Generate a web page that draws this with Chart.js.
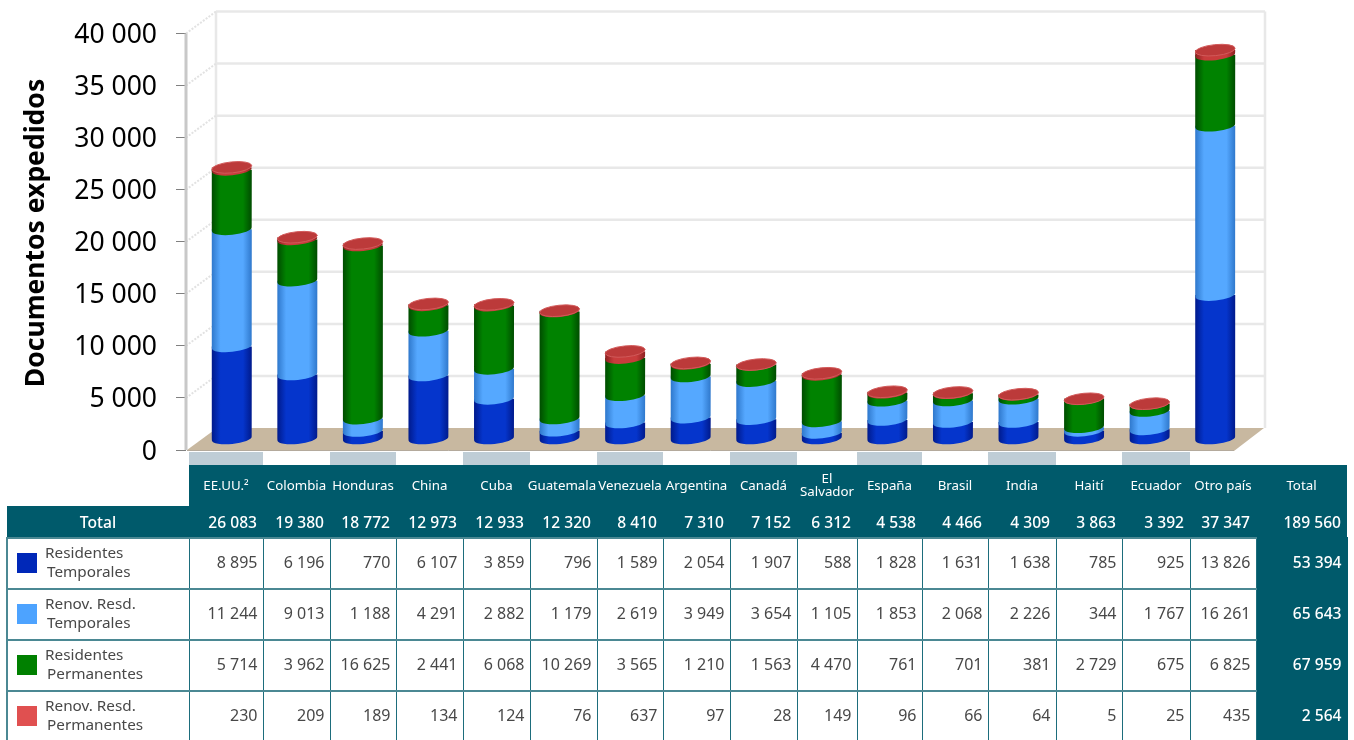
<!DOCTYPE html>
<html>
<head>
<meta charset="utf-8">
<script src="https://cdn.jsdelivr.net/npm/chart.js@4"></script>
<style>
  html, body { margin: 0; padding: 0; width: 1354px; height: 740px; overflow: hidden; background: #fff; }
  body { position: relative; font-family: "Noto Sans", "Open Sans", sans-serif; }
  #wrap { position: absolute; left: 0; top: 0; width: 1354px; height: 465px; }
  #tbl { position: absolute; left: 6px; top: 452px; border-collapse: collapse; table-layout: fixed; color: #484848; }
  #tbl td { padding: 0; box-sizing: border-box; }
  #tbl .band td { height: 13px; border: none; }
  #tbl .band td.on { background: #bfcdd6; }
  #tbl .head td { height: 41px; background: #005a6b; color: #fff; font-size: 13.3px; text-align: center; line-height: 13px; padding-bottom: 1px; }
  #tbl .head td:nth-child(7) { text-indent: -3px; white-space: nowrap; }
  #tbl .tot td { height: 32px; background: #005a6b; color: #fff; font-size: 15.6px; font-weight: 500; text-align: right; padding-right: 6px; }
  #tbl .tot td.lab { text-align: center; padding-right: 0; }
  #tbl .row td { height: 51px; border-top: 2px solid #4b8893; border-bottom: 2px solid #4b8893; border-left: 1px solid #1d6d7c; border-right: 1px solid #1d6d7c; font-size: 16px; text-align: right; padding: 0 5px 4px 0; }
  #tbl .row td.lab { text-align: left; padding: 0 0 3px 37px; position: relative; font-size: 15.3px; line-height: 19px; border-left: 2px solid #4b8893; }
  #tbl .row td.sum { background: #005a6b; color: #fff; font-weight: 500; font-size: 15.6px; padding-right: 5px; border-color: #005a6b; }
  .sw { position: absolute; left: 9px; top: 14px; width: 20px; height: 20px; }
  .l2 { padding-left: 2px; }
</style>
</head>
<body>
<div id="wrap"><canvas id="myChart"></canvas></div>
<table id="tbl"></table>
<script>
const countries = ['EE.UU.²','Colombia','Honduras','China','Cuba','Guatemala','Venezuela','Argentina','Canadá','El Salvador','España','Brasil','India','Haití','Ecuador','Otro país'];
const residTemp = [8895,6196,770,6107,3859,796,1589,2054,1907,588,1828,1631,1638,785,925,13826];
const renovTemp = [11244,9013,1188,4291,2882,1179,2619,3949,3654,1105,1853,2068,2226,344,1767,16261];
const residPerm = [5714,3962,16625,2441,6068,10269,3565,1210,1563,4470,761,701,381,2729,675,6825];
const renovPerm = [230,209,189,134,124,76,637,97,28,149,96,66,64,5,25,435];
const totals = [26083,19380,18772,12973,12933,12320,8410,7310,7152,6312,4538,4466,4309,3863,3392,37347];
const rowTotals = [53394,65643,67959,2564];
const grandTotal = 189560;
const rowNames = [['Residentes','Temporales'],['Renov. Resd.','Temporales'],['Residentes','Permanentes'],['Renov. Resd.','Permanentes']];
const swatches = ['#0028b8','#4da3ff','#008000','#e05050'];
const colWidths = [182,74,67,66,67,67,67,66,67,67,60,65,66,68,66,68,66,91];
const axisTitle = 'Documentos expedidos';

// colores del cilindro: borde, centro
const sideColors = [['#001a8c','#0535cc'],['#2f78cc','#55a8ff'],['#004c00','#008200'],['#8c2020','#c83c3c']];
const capColor = '#bc3a3a';

// desplazamiento 3D
const DEPTH_X = 30, DEPTH_Y = -22;
const BAR_DX = 13, BAR_DY = -11;

const fmt = n => String(n).replace(/\B(?=(\d{3})+$)/g, ' ');

const fondo3d = {
  id: 'fondo3d',
  beforeDatasetsDraw(chart) {
    const { ctx, chartArea: a, scales: { y } } = chart;
    ctx.save();
    // suelo
    ctx.fillStyle = '#c8b8a0';
    ctx.beginPath();
    ctx.moveTo(a.left + 1, a.bottom);
    ctx.lineTo(a.left + DEPTH_X + 1, a.bottom + DEPTH_Y);
    ctx.lineTo(a.right + DEPTH_X - 1, a.bottom + DEPTH_Y);
    ctx.lineTo(a.right - 1, a.bottom + 1);
    ctx.closePath();
    ctx.fill();
    ctx.strokeStyle = '#b4aa9c';
    ctx.lineWidth = 1;
    ctx.beginPath();
    ctx.moveTo(a.left + 1, a.bottom + 0.5);
    ctx.lineTo(a.right - 1, a.bottom + 0.5);
    ctx.stroke();
    // pared del fondo
    ctx.lineWidth = 2.5;
    ctx.strokeStyle = '#e8e8e8';
    ctx.beginPath();
    ctx.moveTo(a.left + DEPTH_X, a.top + DEPTH_Y);
    ctx.lineTo(a.left + DEPTH_X, a.bottom + DEPTH_Y);
    ctx.moveTo(a.right + DEPTH_X, a.top + DEPTH_Y);
    ctx.lineTo(a.right + DEPTH_X, a.bottom + DEPTH_Y);
    ctx.stroke();
    y.ticks.forEach(t => {
      const py = y.getPixelForValue(t.value);
      if (t.value > 0) {
        ctx.strokeStyle = '#e8e8e8';
        ctx.lineWidth = 2.5;
        ctx.setLineDash([]);
        ctx.beginPath();
        ctx.moveTo(a.left + DEPTH_X, py + DEPTH_Y);
        ctx.lineTo(a.right + DEPTH_X, py + DEPTH_Y);
        ctx.stroke();
        ctx.strokeStyle = '#e2e2e2';
        ctx.lineWidth = 2;
        ctx.setLineDash([2, 1.5]);
        ctx.beginPath();
        ctx.moveTo(a.left, py);
        ctx.lineTo(a.left + DEPTH_X, py + DEPTH_Y);
        ctx.stroke();
      }
    });
    ctx.setLineDash([]);
    // eje vertical
    ctx.strokeStyle = '#c8c8c8';
    ctx.lineWidth = 3;
    ctx.beginPath();
    ctx.moveTo(a.left, a.top);
    ctx.lineTo(a.left, a.bottom);
    ctx.stroke();
    ctx.restore();
    // cilindros
    chart.data.datasets.forEach((ds, i) => {
      chart.getDatasetMeta(i).data.forEach(bar => dibujaCilindro(ctx, bar, i));
    });
    chart.getDatasetMeta(3).data.forEach(bar => dibujaTapa(ctx, bar));
  },
  beforeDatasetDraw() {
    return false;
  },
  afterDraw(chart) {
    // titulo del eje, va 7px mas arriba del centro de la escala
    const { ctx } = chart;
    ctx.save();
    ctx.translate(36, 233);
    ctx.rotate(-Math.PI / 2);
    ctx.font = 'bold 26.5px "Noto Sans"';
    ctx.fillStyle = '#000';
    ctx.textAlign = 'center';
    ctx.textBaseline = 'middle';
    ctx.fillText(axisTitle, 0, 0);
    ctx.restore();
  }
};

function dibujaCilindro(ctx, bar, i) {
  const rx = bar.width / 2, ry = 5.5;
  const x = bar.x + BAR_DX, top = bar.y + BAR_DY, bot = bar.base + BAR_DY;
  const g = ctx.createLinearGradient(x - rx, 0, x + rx, 0);
  g.addColorStop(0, sideColors[i][0]);
  g.addColorStop(0.22, sideColors[i][1]);
  g.addColorStop(0.78, sideColors[i][1]);
  g.addColorStop(1, sideColors[i][0]);
  ctx.save();
  ctx.fillStyle = g;
  ctx.beginPath();
  ctx.moveTo(x - rx, top);
  ctx.lineTo(x - rx, bot);
  ctx.ellipse(x, bot, rx, ry, -0.1, Math.PI, 0, true);
  ctx.lineTo(x + rx, top);
  ctx.closePath();
  ctx.fill();
  ctx.restore();
}

function dibujaTapa(ctx, bar) {
  ctx.save();
  ctx.fillStyle = capColor;
  ctx.strokeStyle = '#d25a5a';
  ctx.lineWidth = 1;
  ctx.beginPath();
  ctx.ellipse(bar.x + BAR_DX, bar.y + BAR_DY, bar.width / 2, 5.5, -0.1, 0, Math.PI * 2);
  ctx.fill();
  ctx.stroke();
  ctx.restore();
}

const ctxt = document.getElementById('myChart').getContext('2d');
const myChart = new Chart(ctxt, {
  type: 'bar',
  data: {
    labels: countries,
    datasets: [
      { label: 'Residentes Temporales', data: residTemp, backgroundColor: swatches[0] },
      { label: 'Renov. Resd. Temporales', data: renovTemp, backgroundColor: swatches[1] },
      { label: 'Residentes Permanentes', data: residPerm, backgroundColor: swatches[2] },
      { label: 'Renov. Resd. Permanentes', data: renovPerm, backgroundColor: swatches[3] }
    ]
  },
  options: {
    responsive: true,
    maintainAspectRatio: false,
    animation: false,
    barPercentage: 0.61,
    categoryPercentage: 1,
    layout: { padding: { top: 33.5, right: 119, bottom: 15, left: 0 } },
    plugins: { legend: { display: false }, tooltip: { enabled: false } },
    scales: {
      x: { stacked: true, display: false },
      y: {
        stacked: true,
        min: 0,
        max: 40000,
        afterFit: s => { s.width = 186; s.paddingTop = 0; s.paddingBottom = 0; },
        border: { display: false },
        grid: { drawOnChartArea: false, drawTicks: true, tickLength: 10, color: '#808080', lineWidth: 1 },
        ticks: {
          stepSize: 5000,
          padding: 19,
          labelOffset: 2,
          color: '#000',
          font: { family: 'Noto Sans', size: 26.5 },
          callback: v => fmt(v)
        }
      }
    }
  },
  plugins: [fondo3d]
});

// tabla de datos
const tbl = document.getElementById('tbl');
const colg = document.createElement('colgroup');
colWidths.forEach(w => { const c = document.createElement('col'); c.style.width = w + 'px'; colg.appendChild(c); });
tbl.appendChild(colg);
tbl.style.width = colWidths.reduce((a, b) => a + b, 0) + 'px';

function fila(cls, celdas) {
  const tr = document.createElement('tr');
  tr.className = cls;
  celdas.forEach(c => {
    const td = document.createElement('td');
    if (c.cls) td.className = c.cls;
    if (c.html) td.innerHTML = c.html; else td.textContent = c.text || '';
    tr.appendChild(td);
  });
  tbl.appendChild(tr);
  return tr;
}

fila('band', [{}, ...countries.map((_, i) => ({ cls: i % 2 === 0 ? 'on' : '' })), {}]);
const hd = fila('head', [{}, ...countries.map(c => ({ text: c })), { text: 'Total' }]);
hd.firstChild.style.background = '#fff';
fila('tot', [{ text: 'Total', cls: 'lab' }, ...totals.map(v => ({ text: fmt(v) })), { text: fmt(grandTotal) }]);
[residTemp, renovTemp, residPerm, renovPerm].forEach((serie, i) => {
  const lab = `<span class="sw" style="background:${swatches[i]}"></span>${rowNames[i][0]}<br><span class="l2">${rowNames[i][1]}</span>`;
  fila('row', [{ html: lab, cls: 'lab' }, ...serie.map(v => ({ text: fmt(v) })), { text: fmt(rowTotals[i]), cls: 'sum' }]);
});
</script>
</body>
</html>
